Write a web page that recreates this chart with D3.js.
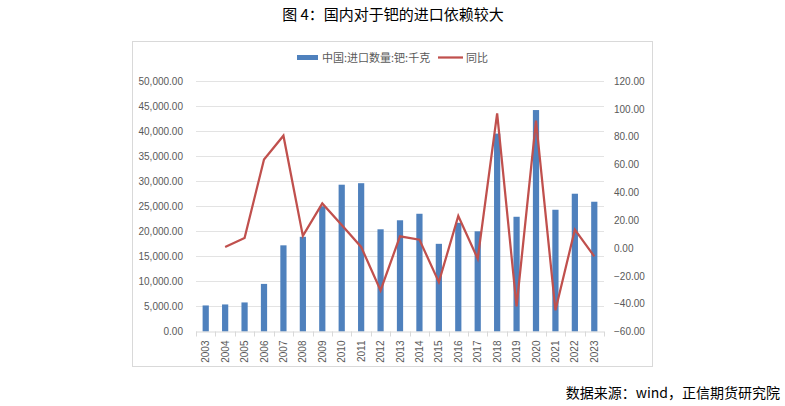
<!DOCTYPE html>
<html><head><meta charset="utf-8">
<script src="https://cdn.jsdelivr.net/npm/d3@7"></script>
<style>html,body{margin:0;padding:0;background:#fff;}</style>
</head><body>
<svg id="c" width="785" height="406"></svg>
<script>
const years = ["2003","2004","2005","2006","2007","2008","2009","2010","2011","2012","2013","2014","2015","2016","2017","2018","2019","2020","2021","2022","2023"];
const imports = [5200,5400,5800,9500,17200,18900,25000,29300,29600,20400,22200,23500,17500,21700,20000,39500,22900,44200,24300,27500,25900];
const yoy = [null,0.7,7.2,63.6,80.7,8.7,32.0,16.5,0.8,-30.5,8.4,6.0,-24.5,23.0,-7.7,96.8,-42.0,91.5,-44.8,13.2,-6.0];
const leftTicks = [0,5000,10000,15000,20000,25000,30000,35000,40000,45000,50000];
const rightTicks = [-60,-40,-20,0,20,40,60,80,100,120];
const seriesNames = ["中国:进口数量:钯:千克","同比"];
const titleText = "图 4：国内对于钯的进口依赖较大";
const sourceText = "数据来源：wind，正信期货研究院";

const svg = d3.select("#c");
const cjk = "'Noto Sans CJK SC','Noto Sans',sans-serif";
const num = "'Liberation Sans','DejaVu Sans',sans-serif";
const L = 196, R = 604, T = 81, B = 331.5;

svg.append("text").attr("x",393).attr("y",20).attr("text-anchor","middle")
  .attr("font-family",cjk).attr("font-size",15).attr("fill","#000").text(titleText);
svg.append("text").attr("x",780).attr("y",398).attr("text-anchor","end")
  .attr("font-family",cjk).attr("font-size",14).attr("fill","#000").text(sourceText);

svg.append("rect").attr("x",132.5).attr("y",41.5).attr("width",520).attr("height",325)
  .attr("fill","none").attr("stroke","#d9d9d9");

const x = d3.scaleBand().domain(years).range([L,R]).paddingInner(0.68).paddingOuter(0.34);
const step = (R-L)/years.length;
const yL = d3.scaleLinear().domain([0,50000]).range([B,T]);
const yR = d3.scaleLinear().domain([-60,120]).range([B,T]);

// gridlines
svg.append("g").selectAll("line").data(leftTicks.slice(1)).join("line")
  .attr("x1",L).attr("x2",R).attr("y1",d=>Math.round(yL(d))+0.5).attr("y2",d=>Math.round(yL(d))+0.5)
  .attr("stroke","#e3e3e3").attr("stroke-width",1);

// left axis
const fmt = d3.format(",.2f");
const gL = svg.append("g").attr("transform",`translate(${L},0)`)
  .call(d3.axisLeft(yL).tickValues(leftTicks).tickFormat(fmt).tickSize(0).tickPadding(13));
gL.select(".domain").remove();
gL.selectAll("text").attr("font-family",num).attr("font-size",10).attr("fill","#595959");

const gR = svg.append("g").attr("transform",`translate(${R},0)`)
  .call(d3.axisRight(yR).tickValues(rightTicks).tickFormat(d3.format(".2f")).tickSize(0).tickPadding(10));
gR.select(".domain").remove();
gR.selectAll("text").attr("font-family",num).attr("font-size",10).attr("fill","#595959");

// bars
svg.append("g").selectAll("rect").data(imports).join("rect")
  .attr("x",(d,i)=>x(years[i])).attr("width",x.bandwidth())
  .attr("y",d=>yL(d)).attr("height",d=>B-yL(d)).attr("fill","#4f81bd");

// x axis
const gX = svg.append("g").attr("transform",`translate(0,${B})`);
gX.append("line").attr("x1",L).attr("x2",R).attr("y1",0.5).attr("y2",0.5).attr("stroke","#d9d9d9");
gX.selectAll("line.t").data(d3.range(years.length+1)).join("line").attr("class","t")
  .attr("x1",i=>Math.round(L+i*step)+0.5).attr("x2",i=>Math.round(L+i*step)+0.5)
  .attr("y1",0).attr("y2",5).attr("stroke","#d9d9d9");
gX.selectAll("text").data(years).join("text")
  .attr("transform",d=>`translate(${x(d)+x.bandwidth()/2+3.5},9) rotate(-90)`)
  .attr("text-anchor","end").attr("font-family",num).attr("font-size",10).attr("fill","#595959").text(d=>d);

// line
const line = d3.line().defined(d=>d!==null)
  .x((d,i)=>x(years[i])+x.bandwidth()/2).y(d=>yR(d));
svg.append("path").datum(yoy).attr("d",line).attr("fill","none")
  .attr("stroke","#c0504d").attr("stroke-width",2.25).attr("stroke-linejoin","miter");

// legend
const lg = svg.append("g");
lg.append("rect").attr("x",297).attr("y",55).attr("width",21).attr("height",5).attr("fill","#4f81bd");
lg.append("text").attr("x",322).attr("y",61.5).attr("font-family",cjk).attr("font-size",11).attr("fill","#595959").text(seriesNames[0]);
lg.append("line").attr("x1",438).attr("x2",463).attr("y1",57.5).attr("y2",57.5).attr("stroke","#c0504d").attr("stroke-width",2.25);
lg.append("text").attr("x",466).attr("y",61.5).attr("font-family",cjk).attr("font-size",11).attr("fill","#595959").text(seriesNames[1]);
</script>
</body></html>
